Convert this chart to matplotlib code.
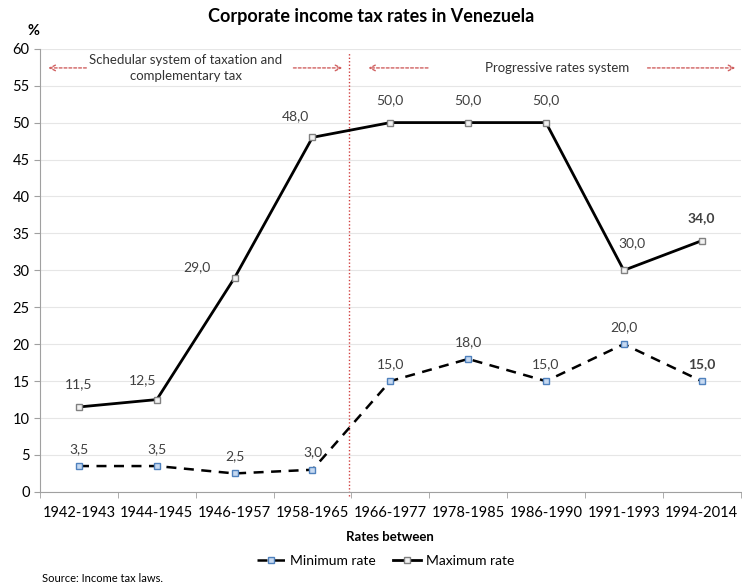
import matplotlib.pyplot as plt
from matplotlib.ticker import MultipleLocator, FixedLocator

plt.rcParams['font.family'] = ['Lato', 'DejaVu Sans']

periods = ["1942-1943", "1944-1945", "1946-1957", "1958-1965", "1966-1977",
           "1978-1985", "1986-1990", "1991-1993", "1994-2014"]
max_rate = [11.5, 12.5, 29.0, 48.0, 50.0, 50.0, 50.0, 30.0, 34.0]
min_rate = [3.5, 3.5, 2.5, 3.0, 15.0, 18.0, 15.0, 20.0, 15.0]

def fmt(v):
    return f"{v:.1f}".replace(".", ",")

fig = plt.figure(figsize=(7.42, 5.87), dpi=100)
ax = fig.add_axes([0.054, 0.162, 0.944, 0.755])

x = list(range(len(periods)))
ax.plot(x, min_rate, color="black", lw=1.8, ls=(0, (4, 3)), marker="s", ms=4.5,
        mfc="#c6d9f1", mec="#4f81bd", mew=1, label="Minimum rate", zorder=3)
ax.plot(x, max_rate, color="black", lw=2, marker="s", ms=4.5,
        mfc="#f2f2f2", mec="#808080", mew=1, label="Maximum rate", zorder=3)

# value labels (offsets in points from the marker)
max_off = {1: (-10, 10), 2: (-27, 3), 3: (-12, 11), 7: (6, 15)}
for i, v in enumerate(max_rate):
    dx, dy = max_off.get(i, (0, 12))
    ax.annotate(fmt(v), (i, v), xytext=(dx, dy), textcoords="offset points",
                ha="center", va="bottom", fontsize=10, color="#404040",
                fontweight="bold" if i == len(x) - 1 else "normal")
for i, v in enumerate(min_rate):
    ax.annotate(fmt(v), (i, v), xytext=(0, 8), textcoords="offset points",
                ha="center", va="bottom", fontsize=10, color="#404040",
                fontweight="bold" if i == len(x) - 1 else "normal")

ax.set_xlim(-0.5, len(x) - 0.5)
ax.set_ylim(0, 60)
ax.yaxis.set_major_locator(MultipleLocator(5))
ax.set_xticks(x)
ax.set_xticklabels(periods, fontsize=10.5)
ax.xaxis.set_minor_locator(FixedLocator([i - 0.5 for i in range(len(x) + 1)]))
ax.tick_params(axis="x", which="major", length=0, pad=10)
ax.tick_params(axis="x", which="minor", length=4, color="#a0a0a0")
ax.tick_params(axis="y", length=4, color="#a0a0a0", labelsize=10.5)
ax.grid(axis="y", color="#e6e6e6", lw=0.8)
ax.set_axisbelow(True)
for s in ["top", "right"]:
    ax.spines[s].set_visible(False)
for s in ["left", "bottom"]:
    ax.spines[s].set_color("#a0a0a0")

# regime split and annotations
ax.axvline(3.47, ymin=-0.01, ymax=0.99, color="#d04040", lw=1, ls=(0, (1, 1.5)),
           clip_on=False)
red = "#d06060"
arrow = dict(arrowstyle="->", color=red, lw=1, ls=(0, (2, 1.5)))
ay = 57.4
ax.annotate("", xy=(-0.43, ay), xytext=(0.13, ay), arrowprops=arrow)
ax.annotate("", xy=(3.42, ay), xytext=(2.72, ay), arrowprops=arrow)
ax.text(1.37, ay, "Schedular system of taxation and\ncomplementary tax",
        ha="center", va="center", fontsize=9.5, color="#333333", linespacing=1.4)
ax.annotate("", xy=(3.68, ay), xytext=(4.52, ay), arrowprops=arrow)
ax.annotate("", xy=(8.47, ay), xytext=(7.27, ay), arrowprops=arrow)
ax.text(6.14, ay, "Progressive rates system", ha="center", va="center",
        fontsize=9.5, color="#333333")

ax.set_xlabel("Rates between", fontsize=9.5, fontweight="bold", labelpad=8)
fig.text(0.5, 0.972, "Corporate income tax rates in Venezuela", ha="center",
         va="center", fontsize=13, fontweight="bold")
fig.text(0.045, 0.948, "%", ha="center", va="center", fontsize=10.5,
         fontweight="bold")
fig.legend(loc="center", bbox_to_anchor=(0.52, 0.044), ncol=2, frameon=False,
           fontsize=10, handlelength=2.0, handletextpad=0.4, columnspacing=1.2)
fig.text(0.056, 0.015, "Source: Income tax laws.", fontsize=8, va="center")

fig.savefig("out.png", dpi=100)
